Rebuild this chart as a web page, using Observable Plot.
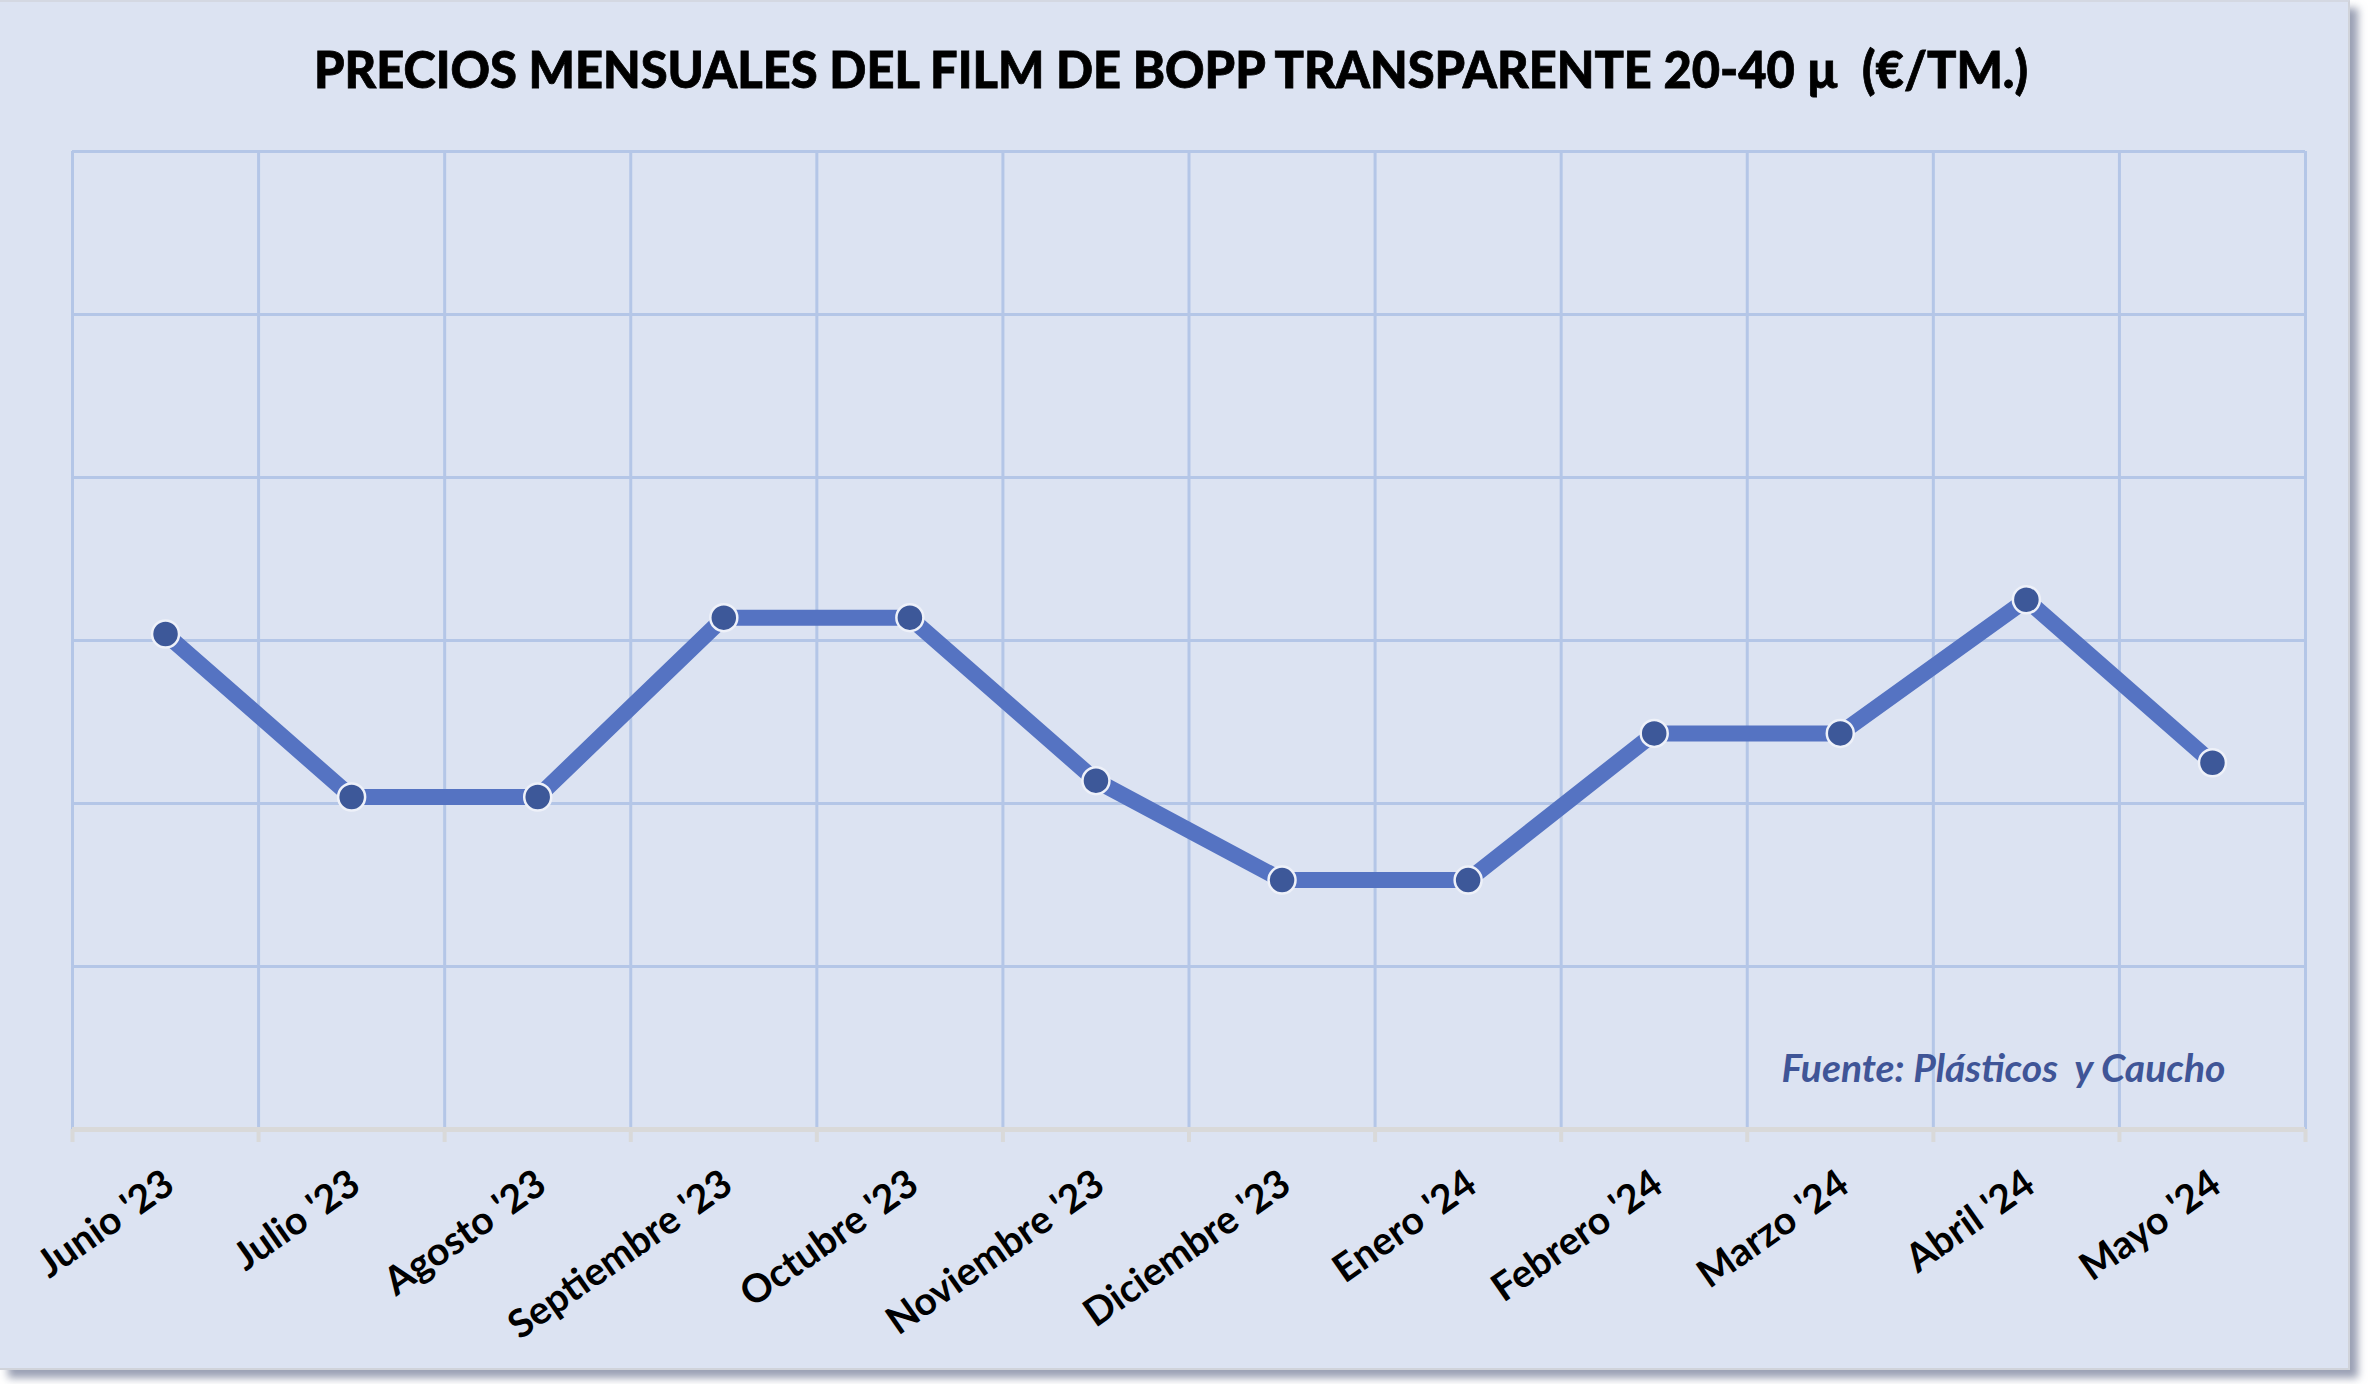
<!DOCTYPE html>
<html>
<head>
<meta charset="utf-8">
<script src="https://cdn.jsdelivr.net/npm/d3@7"></script>
<script src="https://cdn.jsdelivr.net/npm/@observablehq/plot@0.6"></script>
<style>
  html, body { margin: 0; padding: 0; background: #ffffff; }
  #frame {
    position: absolute; left: 0; top: 0;
    width: 2348px; height: 1366px;
    background: #dce3f2;
    border-top: 2px solid #d4d8e2;
    border-right: 2px solid #d0d3da;
    border-bottom: 2px solid #d0d3da;
    box-shadow: 8px 8px 8px rgba(120,128,155,0.75);
    overflow: hidden;
  }
  #title { display: block; }
  #title text, svg text { white-space: pre; }
</style>
</head>
<body>
<div id="frame"></div>
<script>
const titleText = "PRECIOS MENSUALES DEL FILM DE BOPP TRANSPARENTE 20-40 µ  (€/TM.)";
const sourceText = "Fuente: Plásticos  y Caucho";
const months = ["Junio '23", "Julio '23", "Agosto '23", "Septiembre '23", "Octubre '23", "Noviembre '23",
                "Diciembre '23", "Enero '24", "Febrero '24", "Marzo '24", "Abril '24", "Mayo '24"];
const prices = [3.04, 2.04, 2.04, 3.14, 3.14, 2.14, 1.53, 1.53, 2.43, 2.43, 3.25, 2.25];
const yTicks = [0, 1, 2, 3, 4, 5, 6];

const data = months.map((m, i) => ({month: m, pos: i + 0.5, price: prices[i]}));
const boundaries = d3.range(months.length + 1);
const centers = months.map((m, i) => i + 0.5);

const frame = document.getElementById("frame");

// Title (real text, in its own SVG above the chart)
const ns = "http://www.w3.org/2000/svg";
const tsvg = document.createElementNS(ns, "svg");
tsvg.setAttribute("id", "title");
tsvg.setAttribute("width", 2348);
tsvg.setAttribute("height", 110);
const tt = document.createElementNS(ns, "text");
tt.setAttribute("x", 1171);
tt.setAttribute("y", 86);
tt.setAttribute("text-anchor", "middle");
tt.setAttribute("font-family", "Lato, 'Open Sans', sans-serif");
tt.setAttribute("font-weight", "900");
tt.setAttribute("font-size", "52");
tt.setAttribute("fill", "#000000");
tt.setAttribute("stroke", "#000000");
tt.setAttribute("stroke-width", "0.8");
tt.setAttribute("textLength", "1714");
tt.setAttribute("lengthAdjust", "spacingAndGlyphs");
tt.textContent = titleText;
tsvg.appendChild(tt);
frame.appendChild(tsvg);

const chart = Plot.plot({
  width: 2348,
  height: 1256,
  marginTop: 39,
  marginBottom: 239,
  marginLeft: 72,
  marginRight: 43,
  style: {background: "transparent", fontFamily: "Lato, 'Open Sans', sans-serif", overflow: "visible"},
  x: {domain: [0, months.length], axis: null},
  y: {domain: [0, 6], axis: null},
  marks: [
    Plot.gridX(boundaries, {stroke: "#b4c6e7", strokeOpacity: 1, strokeWidth: 3}),
    Plot.gridY(yTicks.slice(1), {stroke: "#b4c6e7", strokeOpacity: 1, strokeWidth: 3}),
    Plot.ruleY([0], {stroke: "#d9d9d9", strokeWidth: 5}),
    Plot.axisX(boundaries, {tickSize: 13, tickFormat: () => "", stroke: "#d9d9d9", strokeWidth: 4, label: null}),
    Plot.axisX(centers, {
      tickSize: 0, tickPadding: 50, tickRotate: -35, label: null,
      tickFormat: (d) => months[Math.floor(d)],
      fontSize: 39, fontWeight: 700, fill: "#000000", dx: 4
    }),
    Plot.line(data, {x: "pos", y: "price", stroke: "#5573c2", strokeWidth: 16, strokeLinejoin: "round"}),
    Plot.dot(data, {x: "pos", y: "price", r: 13.5, fill: "#3d5899", stroke: "#eef1f9", strokeWidth: 2.5}),
    Plot.text([sourceText], {
      frameAnchor: "bottom-right", dx: -80, dy: -48, lineAnchor: "bottom",
      fontSize: 39, fontWeight: 700, fontStyle: "italic", fill: "#3f5597"
    })
  ]
});
frame.appendChild(chart);
</script>
</body>
</html>
